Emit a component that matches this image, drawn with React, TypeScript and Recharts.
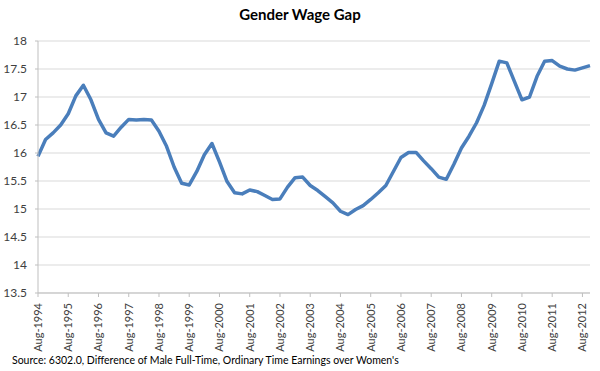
import React from "react";
import { LineChart, Line, XAxis, YAxis, CartesianGrid } from "recharts";

const quarterMonths = ["Aug", "Nov", "Feb", "May"];
const startYear = 1994;

const gapValues = [
  15.94, 16.24, 16.36, 16.5, 16.7, 17.02, 17.21, 16.95, 16.6, 16.36,
  16.3, 16.46, 16.6, 16.59, 16.6, 16.59, 16.39, 16.12, 15.75, 15.46,
  15.43, 15.67, 15.97, 16.17, 15.84, 15.49, 15.29, 15.27, 15.34, 15.31,
  15.24, 15.17, 15.18, 15.39, 15.56, 15.57, 15.42, 15.33, 15.22, 15.11,
  14.96, 14.9, 14.99, 15.06, 15.17, 15.29, 15.42, 15.67, 15.92, 16.01,
  16.01, 15.86, 15.72, 15.57, 15.53, 15.8, 16.09, 16.3, 16.54, 16.85,
  17.24, 17.64, 17.61, 17.28, 16.95, 17.0, 17.37, 17.64, 17.65, 17.55,
  17.5, 17.48, 17.52, 17.56,
];

const yTicks = [13.5, 14, 14.5, 15, 15.5, 16, 16.5, 17, 17.5, 18];

const periodLabels = gapValues.map((_, i) => {
  const m = quarterMonths[i % 4];
  const y = startYear + Math.floor((i + 2) / 4);
  return `${m}-${y}`;
});

const data = gapValues.map((v, i) => ({ period: periodLabels[i], gap: v }));

const FONT = "Lato, 'Open Sans', 'DejaVu Sans', sans-serif";

const XTick = (props: any) => {
  const { x, y, payload } = props;
  return (
    <text
      x={0}
      y={0}
      transform={`translate(${x + 4},${y + 4}) rotate(-90)`}
      textAnchor="end"
      fontSize={11}
      fontFamily={FONT}
      fill="#404040"
    >
      {payload.value}
    </text>
  );
};

export default function App() {
  return (
    <div style={{ position: "absolute", left: 0, top: 0, width: 600, height: 371, background: "#fff" }}>
      <div
        style={{
          position: "absolute",
          left: 0,
          top: 5,
          width: 600,
          textAlign: "center",
          fontFamily: FONT,
          fontWeight: 700,
          fontSize: 15,
          color: "#000",
        }}
      >
        Gender Wage Gap
      </div>
      <LineChart
        width={600}
        height={371}
        data={data}
        margin={{ top: 41, right: 10, left: 0, bottom: 0 }}
      >
        <CartesianGrid vertical={false} stroke="#d9d9d9" strokeWidth={1} />
        <XAxis
          dataKey="period"
          interval={3}
          height={78}
          tick={<XTick />}
          tickSize={4}
          tickLine={{ stroke: "#bfbfbf" }}
          axisLine={{ stroke: "#bfbfbf" }}
        />
        <YAxis
          domain={[13.5, 18]}
          ticks={yTicks}
          width={38}
          tickSize={3}
          tickMargin={8}
          tick={{ fontSize: 12, fontFamily: FONT, fill: "#404040" }}
          tickLine={{ stroke: "#bfbfbf" }}
          axisLine={{ stroke: "#bfbfbf" }}
          allowDataOverflow
        />
        <Line
          type="linear"
          dataKey="gap"
          stroke="#4A7EBB"
          strokeWidth={3.5}
          strokeLinejoin="round"
          dot={false}
          isAnimationActive={false}
        />
      </LineChart>
      <div
        style={{
          position: "absolute",
          left: 12,
          top: 354,
          fontFamily: FONT,
          fontSize: 10.5,
          color: "#000",
          whiteSpace: "nowrap",
        }}
      >
        Source: 6302.0, Difference of Male Full-Time, Ordinary Time Earnings over Women's
      </div>
    </div>
  );
}
